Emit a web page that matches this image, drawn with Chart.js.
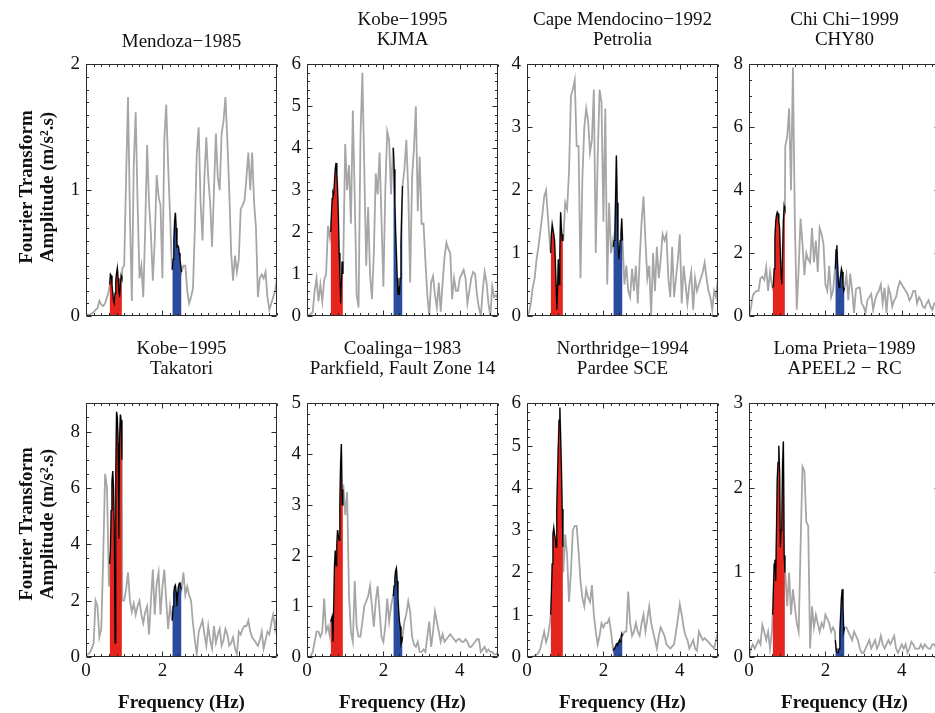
<!DOCTYPE html>
<html><head><meta charset="utf-8">
<script src="https://cdn.jsdelivr.net/npm/chart.js@4.4.1/dist/chart.umd.min.js"></script>
<style>
html,body{margin:0;padding:0;background:#fff;width:935px;height:713px;overflow:hidden;position:relative;font-family:"Liberation Serif","Times New Roman",serif;color:#111;}
canvas{position:absolute;}
.t{position:absolute;text-align:center;font-size:19px;line-height:20px;white-space:nowrap;transform:translateX(-50%);}
.yl{position:absolute;font-weight:bold;font-size:19px;line-height:21px;text-align:center;white-space:nowrap;transform:translate(-50%,-50%) rotate(-90deg);}
.xl{position:absolute;font-weight:bold;font-size:19px;line-height:20px;white-space:nowrap;transform:translate(-50%,-50%);}
</style></head><body>
<script>
// ---------- data ----------
const FREQ = [0,0.05,0.1,0.15,0.2,0.25,0.3,0.35,0.4,0.45,0.5,0.55,0.6,0.65,0.7,0.75,0.8,0.85,0.9,0.95,
1,1.05,1.1,1.15,1.2,1.25,1.3,1.35,1.4,1.45,1.5,1.55,1.6,1.65,1.7,1.75,1.8,1.85,1.9,1.95,
2,2.05,2.1,2.15,2.2,2.25,2.3,2.35,2.4,2.45,2.5,2.55,2.6,2.65,2.7,2.75,2.8,2.85,2.9,2.95,
3,3.05,3.1,3.15,3.2,3.25,3.3,3.35,3.4,3.45,3.5,3.55,3.6,3.65,3.7,3.75,3.8,3.85,3.9,3.95,
4,4.05,4.1,4.15,4.2,4.25,4.3,4.35,4.4,4.45,4.5,4.55,4.6,4.65,4.7,4.75,4.8,4.85,4.9,4.95,5];

// full spectra (gray), sampled on FREQ
const MENDOZA = [0.01,0.01,0.01,0.02,0.03,0.05,0.06,0.12,0.09,0.08,0.10,0.15,0.20,0.33,0.20,0.10,0.35,0.30,0.20,0.38,
0.40,1.10,1.74,0.80,0.12,1.20,1.62,0.90,0.30,0.40,0.15,0.70,1.36,0.90,0.65,0.28,0.60,1.12,0.95,0.88,
0.30,1.40,1.68,1.20,0.80,0.37,0.60,0.82,0.55,0.50,0.35,0.40,0.40,0.20,0.10,0.15,0.22,0.70,1.30,1.50,
0.90,0.60,1.10,1.42,1.10,0.90,0.55,1.00,1.45,1.10,1.00,1.45,1.55,1.74,1.40,1.00,0.50,0.28,0.48,0.35,
0.45,0.85,0.88,0.92,1.10,1.30,1.00,1.30,0.90,0.70,0.15,0.30,0.33,0.30,0.35,0.15,0.05,0.10,0.15,0.20,0.30];

const KOBE_KJMA = [0.00,0.02,0.05,0.10,0.60,0.90,0.35,0.75,0.35,0.85,1.00,2.15,1.85,2.90,3.00,3.65,3.00,1.00,0.30,1.30,
4.10,3.00,3.60,2.20,4.90,2.80,0.50,0.20,4.30,5.80,3.50,1.20,2.60,1.00,0.40,1.50,3.40,2.90,3.90,2.30,
0.70,3.00,4.40,4.20,2.90,4.00,2.90,1.50,0.60,0.50,3.10,3.50,4.20,3.00,0.80,3.30,4.00,5.00,2.50,3.80,
2.20,2.20,1.30,0.50,0.00,0.80,0.95,0.50,0.20,0.80,0.10,0.80,1.40,1.75,1.60,1.50,0.40,0.90,0.60,0.60,
0.90,1.00,1.10,0.90,0.30,0.60,0.90,1.05,1.00,0.50,0.20,0.00,0.60,1.05,0.80,0.30,0.00,0.70,0.45,0.50,0.40];

const CAPE_MENDOCINO = [0.00,0.05,0.20,0.45,0.60,0.90,1.10,1.35,1.60,1.90,2.00,1.55,1.15,1.20,1.40,0.90,0.15,0.90,1.65,1.20,
1.80,1.70,2.30,3.50,3.60,3.75,2.70,2.70,0.60,2.20,3.00,3.30,3.10,2.60,2.80,3.60,1.00,2.50,3.60,3.40,
1.50,3.30,0.50,1.80,1.00,1.20,1.10,2.55,1.00,0.90,1.55,0.50,0.80,0.40,0.30,0.75,0.40,0.80,0.20,0.90,
1.50,1.90,1.20,0.60,0.80,0.00,1.00,0.40,1.10,0.60,0.90,1.30,1.20,1.30,0.60,0.30,1.10,0.30,0.60,0.90,
1.30,0.20,0.80,0.50,0.20,0.50,0.70,0.10,0.60,0.40,0.50,0.60,0.70,0.85,0.60,0.40,0.30,0.10,0.40,0.30,0.60];

const CHICHI = [0.00,0.25,0.65,0.75,0.80,0.80,1.20,1.25,1.15,1.55,0.80,1.40,1.00,1.00,3.00,3.30,2.80,1.00,3.50,5.40,
5.70,6.60,4.00,7.90,3.00,0.20,1.50,3.10,2.30,1.30,2.00,1.80,1.70,2.80,1.70,2.40,1.40,2.80,2.60,2.30,
1.00,0.80,1.60,0.60,0.80,1.50,2.25,0.90,1.20,1.50,1.00,1.30,0.50,1.35,0.80,0.10,0.85,0.90,0.90,0.40,
0.30,0.10,0.50,0.60,0.70,0.20,0.50,0.70,0.80,1.00,0.40,0.90,0.10,0.90,0.70,0.30,0.50,0.60,0.90,1.10,
1.00,0.90,0.80,0.70,0.50,0.60,0.80,0.80,0.40,0.60,0.50,0.30,0.25,0.40,0.50,0.30,0.20,0.40,0.35,0.30,0.35];

const KOBE_TAKATORI = [0.05,0.10,0.15,0.30,0.50,2.00,1.80,0.70,1.00,3.50,6.50,6.00,2.50,3.30,6.60,2.00,8.70,4.20,8.60,2.00,
2.00,2.40,3.00,2.00,1.60,1.90,1.50,1.80,2.00,1.50,1.20,1.60,1.80,0.80,2.00,3.10,1.50,2.60,3.00,1.50,
2.50,3.10,2.00,1.00,1.80,1.30,2.00,2.50,1.80,2.60,2.40,3.00,2.20,2.50,2.20,2.00,1.20,0.60,0.10,0.90,
1.10,1.30,0.80,0.40,1.10,0.60,0.30,1.10,0.50,0.80,1.00,0.40,0.60,1.00,0.80,0.40,0.50,0.70,0.30,0.10,
0.90,0.80,1.00,1.10,1.10,1.30,0.90,0.70,0.60,0.50,0.40,0.60,0.90,0.30,0.60,0.90,0.80,1.20,1.50,1.00,1.50];

const COALINGA = [0.00,0.00,0.02,0.10,0.30,0.50,0.50,0.40,0.50,1.15,0.50,0.60,0.40,0.80,0.30,2.10,2.50,2.30,4.20,3.40,
2.80,3.25,1.20,0.50,0.30,1.50,0.60,0.40,0.40,0.70,1.00,1.10,1.20,1.40,1.00,0.60,1.10,1.40,0.90,0.40,
0.30,0.60,1.15,0.70,1.00,1.20,1.50,1.75,1.00,0.40,0.40,0.70,0.85,1.10,0.90,0.40,0.25,0.20,0.30,0.10,
0.10,0.15,0.10,0.40,0.70,0.20,0.50,0.90,0.70,0.50,0.30,0.45,0.30,0.35,0.40,0.45,0.40,0.35,0.30,0.35,
0.35,0.30,0.30,0.35,0.30,0.20,0.20,0.25,0.30,0.35,0.35,0.10,0.15,0.20,0.10,0.15,0.10,0.10,0.05,0.05,0.10];

const NORTHRIDGE = [0.00,0.00,0.00,0.01,0.02,0.05,0.10,0.20,0.40,0.60,0.35,0.50,0.80,1.80,3.00,2.60,4.20,5.90,3.50,2.00,
2.90,2.40,1.30,2.00,3.00,3.10,3.10,2.50,1.80,1.40,1.20,1.60,1.40,1.30,1.70,1.00,0.60,0.30,0.50,0.80,
0.70,0.80,0.80,0.90,0.60,0.20,0.25,0.30,0.35,0.40,0.55,0.60,0.60,1.55,0.80,0.50,0.60,0.80,0.60,0.50,
0.80,1.00,0.60,0.90,1.20,0.80,0.60,0.40,0.20,0.50,0.70,0.60,0.50,0.30,0.25,0.20,0.25,0.30,0.60,0.90,
1.25,1.00,0.70,0.50,0.40,0.20,0.30,0.40,0.20,0.15,0.60,0.50,0.40,0.45,0.40,0.35,0.30,0.25,0.20,0.40,0.60];

const LOMA_PRIETA = [0.00,0.10,0.15,0.10,0.15,0.20,0.15,0.38,0.30,0.20,0.30,0.10,0.30,0.50,1.15,2.30,2.50,1.40,2.55,1.00,
0.60,1.00,0.50,0.80,0.60,0.40,0.30,1.30,2.25,2.20,1.60,1.55,0.10,0.60,0.35,0.50,0.40,0.30,0.40,0.35,
0.50,0.45,0.40,0.30,0.35,0.30,0.05,0.05,0.30,0.80,0.40,0.35,0.30,0.25,0.20,0.30,0.25,0.20,0.10,0.05,
0.05,0.10,0.15,0.20,0.10,0.15,0.20,0.10,0.15,0.25,0.15,0.10,0.15,0.20,0.15,0.20,0.25,0.10,0.05,0.10,
0.15,0.10,0.15,0.05,0.10,0.18,0.15,0.10,0.10,0.10,0.15,0.10,0.15,0.12,0.10,0.10,0.15,0.15,0.10,0.10,0.15];

// finer samples inside the two highlighted bands
const RED_FREQ  = [0.62,0.64,0.66,0.68,0.70,0.72,0.74,0.76,0.78,0.80,0.82,0.84,0.86,0.88,0.90,0.92,0.94];
const BLUE_FREQ = [2.26,2.28,2.30,2.32,2.34,2.36,2.38,2.40,2.42,2.44,2.46,2.48,2.50];

const RED_MENDOZA        = [0.25,0.33,0.32,0.25,0.18,0.12,0.10,0.18,0.28,0.34,0.38,0.30,0.20,0.15,0.25,0.32,0.30];
const RED_KOBE_KJMA      = [2.00,2.40,2.80,2.95,2.90,3.20,3.50,3.65,3.40,3.00,2.40,1.50,1.00,0.30,0.80,1.30,1.00];
const RED_CAPE_MENDOCINO = [1.00,1.30,1.45,1.45,1.30,1.20,0.90,0.50,0.10,0.40,0.90,0.50,1.00,1.65,1.40,1.20,1.30];
const RED_CHICHI         = [0.90,1.00,1.50,2.50,3.00,3.20,3.30,3.25,3.00,2.80,2.00,1.30,1.00,2.00,3.00,3.50,3.40];
const RED_KOBE_TAKATORI  = [3.30,3.80,5.20,6.20,6.60,6.00,4.50,0.50,6.50,8.70,8.50,7.60,4.20,7.80,8.60,8.40,7.00];
const RED_COALINGA       = [0.70,0.75,0.80,0.30,1.00,1.80,2.10,1.80,2.20,2.50,2.40,2.30,3.00,3.80,4.20,3.00,3.30];
const RED_NORTHRIDGE     = [1.00,1.50,2.20,2.90,3.05,2.90,2.80,2.60,3.50,4.30,5.00,5.60,5.90,5.20,4.50,3.50,2.60];
const RED_LOMA_PRIETA    = [0.50,0.80,1.10,1.15,0.90,1.50,2.10,2.30,2.50,2.20,1.30,1.50,1.60,2.30,2.55,1.20,1.00];

const BLUE_MENDOZA        = [0.37,0.45,0.60,0.75,0.82,0.70,0.55,0.56,0.55,0.50,0.45,0.40,0.35];
const BLUE_KOBE_KJMA      = [4.00,3.50,2.70,2.00,1.50,0.90,0.50,0.70,0.50,0.90,1.70,2.50,3.10];
const BLUE_CAPE_MENDOCINO = [1.10,1.20,1.30,1.90,2.55,1.80,1.20,0.90,1.00,1.20,1.30,1.55,1.20];
const BLUE_CHICHI         = [1.50,2.10,2.25,1.60,1.10,0.90,1.10,1.30,1.50,1.40,1.00,0.80,0.90];
const BLUE_KOBE_TAKATORI  = [1.30,1.80,2.30,2.50,2.55,2.30,1.80,2.20,2.50,2.60,2.65,2.50,2.40];
const BLUE_COALINGA       = [1.20,1.40,1.55,1.70,1.75,1.50,1.20,0.90,0.70,0.60,0.25,0.30,0.40];
const BLUE_NORTHRIDGE     = [0.15,0.20,0.22,0.25,0.30,0.32,0.30,0.35,0.40,0.35,0.45,0.55,0.50];
const BLUE_LOMA_PRIETA    = [0.20,0.10,0.05,0.05,0.05,0.10,0.30,0.50,0.70,0.80,0.60,0.30,0.35];

const SERIES = [MENDOZA, KOBE_KJMA, CAPE_MENDOCINO, CHICHI, KOBE_TAKATORI, COALINGA, NORTHRIDGE, LOMA_PRIETA];
const RED_SERIES = [RED_MENDOZA, RED_KOBE_KJMA, RED_CAPE_MENDOCINO, RED_CHICHI, RED_KOBE_TAKATORI, RED_COALINGA, RED_NORTHRIDGE, RED_LOMA_PRIETA];
const BLUE_SERIES = [BLUE_MENDOZA, BLUE_KOBE_KJMA, BLUE_CAPE_MENDOCINO, BLUE_CHICHI, BLUE_KOBE_TAKATORI, BLUE_COALINGA, BLUE_NORTHRIDGE, BLUE_LOMA_PRIETA];
const TITLES = [["Mendoza−1985"],["Kobe−1995","KJMA"],["Cape Mendocino−1992","Petrolia"],["Chi Chi−1999","CHY80"],
                ["Kobe−1995","Takatori"],["Coalinga−1983","Parkfield, Fault Zone 14"],["Northridge−1994","Pardee SCE"],["Loma Prieta−1989","APEEL2 − RC"]];
const Y_MAX   = [2, 6, 4, 8, 9, 5, 6, 3];
const Y_MAJOR = [1, 1, 1, 2, 2, 1, 1, 1];
const Y_MINOR = [0.1, 0.2, 0.2, 0.5, 0.5, 0.2, 0.2, 0.1];
const X_TICKS = [0, 2, 4];
const X_MAX = 5, X_MINOR = 0.2;
const Y_TITLE = ["Fourier Transform", "Amplitude (m/s².s)"];
const X_TITLE = "Frequency (Hz)";

// ---------- layout ----------
const COL_L = [86, 307, 527, 749];
const BOX_W = 191;
const ROW_T = [62, 401], ROW_B = [316, 657];
const PAD_L = 45, PAD_T = 15, PAD_R = 15, PAD_B = 35;
const FONT = '"Liberation Serif","Times New Roman",serif';

const boxTicks = {
  id: 'boxTicks',
  afterDraw(chart, args, o) {
    const {ctx, chartArea: a, scales: {x, y}} = chart;
    ctx.save();
    ctx.strokeStyle = '#2a2a2a';
    ctx.lineWidth = 1;
    ctx.beginPath();
    const L = Math.round(a.left) + 0.5, R = Math.round(a.right) - 0.5, T = Math.round(a.top) + 0.5, B = Math.round(a.bottom) - 0.5;
    ctx.rect(L, T, R - L, B - T);
    const nx = Math.round(X_MAX / X_MINOR);
    for (let i = 0; i <= nx; i++) {
      const v = i * X_MINOR;
      const major = X_TICKS.some(t => Math.abs(t - v) < 1e-6);
      const len = major ? 5 : 2.5;
      const px = Math.round(x.getPixelForValue(v)) + 0.5;
      ctx.moveTo(px, B); ctx.lineTo(px, B - len);
      ctx.moveTo(px, T); ctx.lineTo(px, T + len);
    }
    const ny = Math.round(o.ymax / o.minor);
    for (let i = 0; i <= ny; i++) {
      const v = i * o.minor;
      const major = Math.abs(v / o.major - Math.round(v / o.major)) < 1e-6;
      const len = major ? 5 : 2.5;
      const py = Math.round(y.getPixelForValue(v)) + 0.5;
      ctx.moveTo(L, py); ctx.lineTo(L + len, py);
      ctx.moveTo(R, py); ctx.lineTo(R - len, py);
    }
    ctx.stroke();
    ctx.restore();
  }
};

function addText(cls, html, left, top) {
  const d = document.createElement('div');
  d.className = cls; d.innerHTML = html;
  d.style.left = left + 'px'; d.style.top = top + 'px';
  document.body.appendChild(d);
}

SERIES.forEach((vals, k) => {
  const row = Math.floor(k / 4), col = k % 4;
  const bx = COL_L[col], bt = ROW_T[row], bb = ROW_B[row];
  const cv = document.createElement('canvas');
  const cw = BOX_W + PAD_L + PAD_R, ch = (bb - bt) + PAD_T + PAD_B;
  cv.width = cw; cv.height = ch;
  cv.style.left = (bx - PAD_L) + 'px'; cv.style.top = (bt - PAD_T) + 'px';
  cv.style.width = cw + 'px'; cv.style.height = ch + 'px';
  document.body.appendChild(cv);

  const red = RED_FREQ.map((f, i) => ({x: f, y: RED_SERIES[k][i]}));
  const blue = BLUE_FREQ.map((f, i) => ({x: f, y: BLUE_SERIES[k][i]}));
  const r0 = RED_FREQ[0], r1 = RED_FREQ[RED_FREQ.length - 1];
  const b0 = BLUE_FREQ[0], b1 = BLUE_FREQ[BLUE_FREQ.length - 1];
  const outside = FREQ.map((f, i) => ({x: f, y: vals[i]}))
    .filter(p => !(p.x >= r0 - 1e-6 && p.x <= r1 + 1e-6) && !(p.x >= b0 - 1e-6 && p.x <= b1 + 1e-6));
  const gray = outside.concat(red, blue).sort((p, q) => p.x - q.x);

  const yTicks = [];
  for (let i = 0; i * Y_MAJOR[k] <= Y_MAX[k] + 1e-6; i++) yTicks.push(i * Y_MAJOR[k]);

  new Chart(cv, {
    type: 'line',
    data: {datasets: [
      {data: red, borderColor: '#000', borderWidth: 1.2, backgroundColor: '#e5251d', fill: 'origin', pointRadius: 0, tension: 0},
      {data: blue, borderColor: '#000', borderWidth: 1.2, backgroundColor: '#2b4c9e', fill: 'origin', pointRadius: 0, tension: 0},
      {data: gray, borderColor: '#a6a6a6', borderWidth: 1.8, fill: false, pointRadius: 0, tension: 0}
    ]},
    options: {
      responsive: false, animation: false, devicePixelRatio: 1,
      layout: {padding: {top: PAD_T, right: PAD_R, left: 0, bottom: 0}},
      plugins: {legend: {display: false}, tooltip: {enabled: false},
                boxTicks: {ymax: Y_MAX[k], major: Y_MAJOR[k], minor: Y_MINOR[k]}},
      scales: {
        x: {type: 'linear', min: 0, max: X_MAX,
            afterBuildTicks: s => { s.ticks = X_TICKS.map(v => ({value: v})); },
            afterFit: s => { s.height = PAD_B; },
            grid: {display: false, drawTicks: false}, border: {display: false},
            ticks: {display: row === 1, font: {family: FONT, size: 19}, color: '#111', padding: 3, maxRotation: 0, autoSkip: false}},
        y: {type: 'linear', min: 0, max: Y_MAX[k],
            afterBuildTicks: s => { s.ticks = yTicks.map(v => ({value: v})); },
            afterFit: s => { s.width = PAD_L; },
            grid: {display: false, drawTicks: false}, border: {display: false},
            ticks: {font: {family: FONT, size: 19}, color: '#111', padding: 6, autoSkip: false}}
      }
    },
    plugins: [boxTicks]
  });

  const cx = bx + BOX_W / 2;
  const t = TITLES[k];
  let top;
  if (row === 0) top = t.length === 1 ? 31 : 8.5; else top = 338;
  addText('t', t.join('<br>'), cx, top);
  if (row === 1) addText('xl', X_TITLE, cx, 702);
});
addText('yl', Y_TITLE.join('<br>'), 35.5, 187);
addText('yl', Y_TITLE.join('<br>'), 35.5, 524);
</script>
</body></html>
